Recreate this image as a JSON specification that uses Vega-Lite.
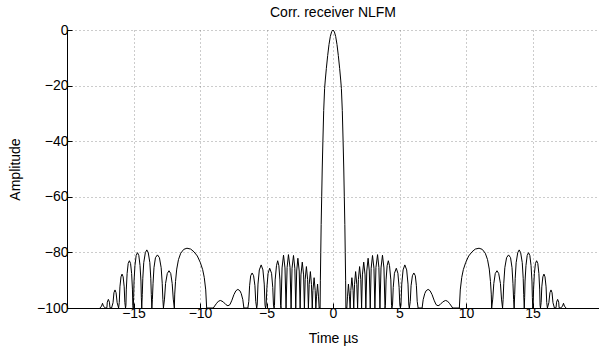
{
"$schema": "https://vega.github.io/schema/vega-lite/v6.json",
"width": 532, "height": 278,
"autosize": "none",
"padding": {"left": 67, "top": 30, "right": 0, "bottom": 42},
"background": "white",
"title": {"text": "Corr. receiver NLFM", "fontSize": 14, "fontWeight": "normal", "font": "Liberation Sans", "color": "black", "baseline": "alphabetic", "offset": 5, "dy": 13, "anchor": "middle", "frame": "group"},
"config": {
  "view": {"stroke": null},
  "axis": {
    "domainColor": "black", "domainWidth": 1,
    "tickColor": "black", "tickSize": -5, "tickWidth": 1,
    "labelFont": "Liberation Sans", "labelFontSize": 14, "labelColor": "black",
    "titleFont": "Liberation Sans", "titleFontSize": 14, "titleFontWeight": "normal", "titleColor": "black",
    "grid": true, "gridColor": "#555", "gridDash": [1, 3], "gridWidth": 1, "gridOpacity": 0.6
  }
},
"data": {"values": [
{"t":0,"a":0},{"t":0.1,"a":-0.6},{"t":0.2,"a":-2.3},{"t":0.3,"a":-5.2},{"t":0.4,"a":-9.2},{"t":0.5,"a":-13.8},{"t":0.58,"a":-18},{"t":0.63,"a":-21},{"t":0.7,"a":-29},{"t":0.76,"a":-40},{"t":0.81,"a":-50},{"t":0.85,"a":-60},{"t":0.89,"a":-70},{"t":0.92,"a":-80},{"t":0.95,"a":-90},{"t":0.97,"a":-100},
{"t":1.04,"a":-100},{"t":1.09,"a":-96},{"t":1.16,"a":-91.4},{"t":1.24,"a":-96},{"t":1.29,"a":-100},
{"t":1.34,"a":-93.7},{"t":1.42,"a":-89.1},{"t":1.51,"a":-93.7},{"t":1.56,"a":-100},
{"t":1.62,"a":-91.5},{"t":1.70,"a":-86.9},{"t":1.79,"a":-91.5},{"t":1.85,"a":-100},
{"t":1.91,"a":-89.7},{"t":2.0,"a":-85.1},{"t":2.09,"a":-89.7},{"t":2.15,"a":-100},
{"t":2.21,"a":-88.1},{"t":2.31,"a":-83.5},{"t":2.41,"a":-88.1},{"t":2.47,"a":-100},
{"t":2.54,"a":-86.7},{"t":2.64,"a":-82.1},{"t":2.73,"a":-86.7},{"t":2.80,"a":-100},
{"t":2.87,"a":-85.7},{"t":2.97,"a":-81.1},{"t":3.08,"a":-85.7},{"t":3.15,"a":-100},
{"t":3.23,"a":-85.4},{"t":3.35,"a":-80.8},{"t":3.45,"a":-85.4},{"t":3.53,"a":-100},
{"t":3.61,"a":-85.6},{"t":3.72,"a":-81.0},{"t":3.83,"a":-85.6},{"t":3.91,"a":-100},
{"t":3.94,"a":-99.1},{"t":3.99,"a":-89.9},{"t":4.07,"a":-84.8},{"t":4.16,"a":-83},{"t":4.25,"a":-84.8},{"t":4.35,"a":-89.9},{"t":4.40,"a":-99.1},{"t":4.43,"a":-100},
{"t":4.475,"a":-98.9},{"t":4.53,"a":-92.6},{"t":4.62,"a":-87.5},{"t":4.76,"a":-85.7},{"t":4.88,"a":-87.5},{"t":4.97,"a":-92.6},{"t":5.025,"a":-98.9},{"t":5.07,"a":-100},
{"t":5.11,"a":-99},{"t":5.17,"a":-91.4},{"t":5.27,"a":-86.3},{"t":5.40,"a":-84.5},{"t":5.54,"a":-86.3},{"t":5.64,"a":-91.4},{"t":5.70,"a":-99},{"t":5.74,"a":-100},
{"t":5.81,"a":-97.6},{"t":5.87,"a":-92},{"t":5.97,"a":-88.4},{"t":6.08,"a":-87.4},{"t":6.19,"a":-88.4},{"t":6.27,"a":-92},{"t":6.33,"a":-97.6},{"t":6.40,"a":-100},
{"t":6.70,"a":-100},{"t":6.78,"a":-97},{"t":6.90,"a":-94.8},{"t":7.00,"a":-93.8},{"t":7.15,"a":-93.3},{"t":7.30,"a":-93.8},{"t":7.45,"a":-95.2},{"t":7.60,"a":-97.2},{"t":7.75,"a":-98.8},{"t":7.90,"a":-99.2},{"t":8.05,"a":-98.8},{"t":8.25,"a":-97.8},{"t":8.45,"a":-97.3},{"t":8.60,"a":-97.5},{"t":8.75,"a":-98.3},{"t":8.90,"a":-99.3},{"t":9.00,"a":-100},
{"t":9.50,"a":-100},{"t":9.57,"a":-93.5},{"t":9.68,"a":-89},{"t":9.80,"a":-86.2},{"t":9.98,"a":-83.6},{"t":10.2,"a":-81.3},{"t":10.45,"a":-79.8},{"t":10.7,"a":-78.8},{"t":10.98,"a":-78.5},{"t":11.22,"a":-78.9},{"t":11.45,"a":-80.3},{"t":11.62,"a":-82.6},{"t":11.75,"a":-86},{"t":11.84,"a":-90.5},{"t":11.90,"a":-95},{"t":11.93,"a":-100},
{"t":12.01,"a":-96.8},{"t":12.09,"a":-91.2},{"t":12.20,"a":-87.6},{"t":12.33,"a":-86.6},{"t":12.46,"a":-87.6},{"t":12.59,"a":-91.2},{"t":12.67,"a":-96.8},{"t":12.75,"a":-100},
{"t":12.79,"a":-97},{"t":12.84,"a":-91.1},{"t":12.92,"a":-85.5},{"t":13.05,"a":-81.9},{"t":13.20,"a":-80.9},{"t":13.35,"a":-81.9},{"t":13.46,"a":-85.5},{"t":13.53,"a":-91.1},{"t":13.58,"a":-97},{"t":13.62,"a":-100},
{"t":13.66,"a":-95.2},{"t":13.70,"a":-89.3},{"t":13.77,"a":-83.7},{"t":13.89,"a":-80.1},{"t":14.00,"a":-79.1},{"t":14.11,"a":-80.1},{"t":14.23,"a":-83.7},{"t":14.30,"a":-89.3},{"t":14.34,"a":-95.2},{"t":14.38,"a":-100},
{"t":14.41,"a":-96.2},{"t":14.44,"a":-90.3},{"t":14.51,"a":-84.7},{"t":14.60,"a":-81.1},{"t":14.70,"a":-80.1},{"t":14.80,"a":-81.1},{"t":14.89,"a":-84.7},{"t":14.96,"a":-90.3},{"t":14.99,"a":-96.2},{"t":15.02,"a":-100},
{"t":15.05,"a":-99.1},{"t":15.08,"a":-93.2},{"t":15.14,"a":-87.6},{"t":15.22,"a":-84},{"t":15.31,"a":-83},{"t":15.40,"a":-84},{"t":15.48,"a":-87.6},{"t":15.54,"a":-93.2},{"t":15.57,"a":-99.1},{"t":15.60,"a":-100},
{"t":15.65,"a":-98},{"t":15.70,"a":-92.4},{"t":15.78,"a":-88.8},{"t":15.86,"a":-87.8},{"t":15.94,"a":-88.8},{"t":16.02,"a":-92.4},{"t":16.07,"a":-98},{"t":16.12,"a":-100},
{"t":16.23,"a":-98.1},{"t":16.31,"a":-94.5},{"t":16.39,"a":-93.5},{"t":16.47,"a":-94.5},{"t":16.54,"a":-98.1},{"t":16.65,"a":-100},
{"t":16.77,"a":-99.9},{"t":16.81,"a":-97.9},{"t":16.89,"a":-96.9},{"t":16.97,"a":-97.9},{"t":17.00,"a":-99.9},{"t":17.12,"a":-100},
{"t":17.26,"a":-99.3},{"t":17.33,"a":-98.3},{"t":17.40,"a":-99.3},{"t":17.52,"a":-100},
{"t":-0.1,"a":-0.6},{"t":-0.2,"a":-2.3},{"t":-0.3,"a":-5.2},{"t":-0.4,"a":-9.2},{"t":-0.5,"a":-13.8},{"t":-0.58,"a":-18},{"t":-0.63,"a":-21},{"t":-0.7,"a":-29},{"t":-0.76,"a":-40},{"t":-0.81,"a":-50},{"t":-0.85,"a":-60},{"t":-0.89,"a":-70},{"t":-0.92,"a":-80},{"t":-0.95,"a":-90},{"t":-0.97,"a":-100},
{"t":-1.04,"a":-100},{"t":-1.09,"a":-96},{"t":-1.16,"a":-91.4},{"t":-1.24,"a":-96},{"t":-1.29,"a":-100},
{"t":-1.34,"a":-93.7},{"t":-1.42,"a":-89.1},{"t":-1.51,"a":-93.7},{"t":-1.56,"a":-100},
{"t":-1.62,"a":-91.5},{"t":-1.70,"a":-86.9},{"t":-1.79,"a":-91.5},{"t":-1.85,"a":-100},
{"t":-1.91,"a":-89.7},{"t":-2.0,"a":-85.1},{"t":-2.09,"a":-89.7},{"t":-2.15,"a":-100},
{"t":-2.21,"a":-88.1},{"t":-2.31,"a":-83.5},{"t":-2.41,"a":-88.1},{"t":-2.47,"a":-100},
{"t":-2.54,"a":-86.7},{"t":-2.64,"a":-82.1},{"t":-2.73,"a":-86.7},{"t":-2.80,"a":-100},
{"t":-2.87,"a":-85.7},{"t":-2.97,"a":-81.1},{"t":-3.08,"a":-85.7},{"t":-3.15,"a":-100},
{"t":-3.23,"a":-85.4},{"t":-3.35,"a":-80.8},{"t":-3.45,"a":-85.4},{"t":-3.53,"a":-100},
{"t":-3.61,"a":-85.6},{"t":-3.72,"a":-81.0},{"t":-3.83,"a":-85.6},{"t":-3.91,"a":-100},
{"t":-3.94,"a":-99.1},{"t":-3.99,"a":-89.9},{"t":-4.07,"a":-84.8},{"t":-4.16,"a":-83},{"t":-4.25,"a":-84.8},{"t":-4.35,"a":-89.9},{"t":-4.40,"a":-99.1},{"t":-4.43,"a":-100},
{"t":-4.475,"a":-98.9},{"t":-4.53,"a":-92.6},{"t":-4.62,"a":-87.5},{"t":-4.76,"a":-85.7},{"t":-4.88,"a":-87.5},{"t":-4.97,"a":-92.6},{"t":-5.025,"a":-98.9},{"t":-5.07,"a":-100},
{"t":-5.11,"a":-99},{"t":-5.17,"a":-91.4},{"t":-5.27,"a":-86.3},{"t":-5.40,"a":-84.5},{"t":-5.54,"a":-86.3},{"t":-5.64,"a":-91.4},{"t":-5.70,"a":-99},{"t":-5.74,"a":-100},
{"t":-5.81,"a":-97.6},{"t":-5.87,"a":-92},{"t":-5.97,"a":-88.4},{"t":-6.08,"a":-87.4},{"t":-6.19,"a":-88.4},{"t":-6.27,"a":-92},{"t":-6.33,"a":-97.6},{"t":-6.40,"a":-100},
{"t":-6.70,"a":-100},{"t":-6.78,"a":-97},{"t":-6.90,"a":-94.8},{"t":-7.00,"a":-93.8},{"t":-7.15,"a":-93.3},{"t":-7.30,"a":-93.8},{"t":-7.45,"a":-95.2},{"t":-7.60,"a":-97.2},{"t":-7.75,"a":-98.8},{"t":-7.90,"a":-99.2},{"t":-8.05,"a":-98.8},{"t":-8.25,"a":-97.8},{"t":-8.45,"a":-97.3},{"t":-8.60,"a":-97.5},{"t":-8.75,"a":-98.3},{"t":-8.90,"a":-99.3},{"t":-9.00,"a":-100},
{"t":-9.50,"a":-100},{"t":-9.57,"a":-93.5},{"t":-9.68,"a":-89},{"t":-9.80,"a":-86.2},{"t":-9.98,"a":-83.6},{"t":-10.2,"a":-81.3},{"t":-10.45,"a":-79.8},{"t":-10.7,"a":-78.8},{"t":-10.98,"a":-78.5},{"t":-11.22,"a":-78.9},{"t":-11.45,"a":-80.3},{"t":-11.62,"a":-82.6},{"t":-11.75,"a":-86},{"t":-11.84,"a":-90.5},{"t":-11.90,"a":-95},{"t":-11.93,"a":-100},
{"t":-12.01,"a":-96.8},{"t":-12.09,"a":-91.2},{"t":-12.20,"a":-87.6},{"t":-12.33,"a":-86.6},{"t":-12.46,"a":-87.6},{"t":-12.59,"a":-91.2},{"t":-12.67,"a":-96.8},{"t":-12.75,"a":-100},
{"t":-12.79,"a":-97},{"t":-12.84,"a":-91.1},{"t":-12.92,"a":-85.5},{"t":-13.05,"a":-81.9},{"t":-13.20,"a":-80.9},{"t":-13.35,"a":-81.9},{"t":-13.46,"a":-85.5},{"t":-13.53,"a":-91.1},{"t":-13.58,"a":-97},{"t":-13.62,"a":-100},
{"t":-13.66,"a":-95.2},{"t":-13.70,"a":-89.3},{"t":-13.77,"a":-83.7},{"t":-13.89,"a":-80.1},{"t":-14.00,"a":-79.1},{"t":-14.11,"a":-80.1},{"t":-14.23,"a":-83.7},{"t":-14.30,"a":-89.3},{"t":-14.34,"a":-95.2},{"t":-14.38,"a":-100},
{"t":-14.41,"a":-96.2},{"t":-14.44,"a":-90.3},{"t":-14.51,"a":-84.7},{"t":-14.60,"a":-81.1},{"t":-14.70,"a":-80.1},{"t":-14.80,"a":-81.1},{"t":-14.89,"a":-84.7},{"t":-14.96,"a":-90.3},{"t":-14.99,"a":-96.2},{"t":-15.02,"a":-100},
{"t":-15.05,"a":-99.1},{"t":-15.08,"a":-93.2},{"t":-15.14,"a":-87.6},{"t":-15.22,"a":-84},{"t":-15.31,"a":-83},{"t":-15.40,"a":-84},{"t":-15.48,"a":-87.6},{"t":-15.54,"a":-93.2},{"t":-15.57,"a":-99.1},{"t":-15.60,"a":-100},
{"t":-15.65,"a":-98},{"t":-15.70,"a":-92.4},{"t":-15.78,"a":-88.8},{"t":-15.86,"a":-87.8},{"t":-15.94,"a":-88.8},{"t":-16.02,"a":-92.4},{"t":-16.07,"a":-98},{"t":-16.12,"a":-100},
{"t":-16.23,"a":-98.1},{"t":-16.31,"a":-94.5},{"t":-16.39,"a":-93.5},{"t":-16.47,"a":-94.5},{"t":-16.54,"a":-98.1},{"t":-16.65,"a":-100},
{"t":-16.77,"a":-99.9},{"t":-16.81,"a":-97.9},{"t":-16.89,"a":-96.9},{"t":-16.97,"a":-97.9},{"t":-17.00,"a":-99.9},{"t":-17.12,"a":-100},
{"t":-17.26,"a":-99.3},{"t":-17.33,"a":-98.3},{"t":-17.40,"a":-99.3},{"t":-17.52,"a":-100}
]},
"mark": {"type": "line", "color": "black", "strokeWidth": 1, "interpolate": "linear", "clip": true},
"encoding": {
  "x": {"field": "t", "type": "quantitative", "scale": {"domain": [-20, 20], "nice": false, "zero": false},
        "axis": {"values": [-15, -10, -5, 0, 5, 10, 15], "title": "Time µs", "labelPadding": 3, "titlePadding": 11}},
  "y": {"field": "a", "type": "quantitative", "scale": {"domain": [-100, 0], "nice": false},
        "axis": {"values": [0, -20, -40, -60, -80, -100], "title": "Amplitude", "labelPadding": 4, "titlePadding": 14}}
}
}
